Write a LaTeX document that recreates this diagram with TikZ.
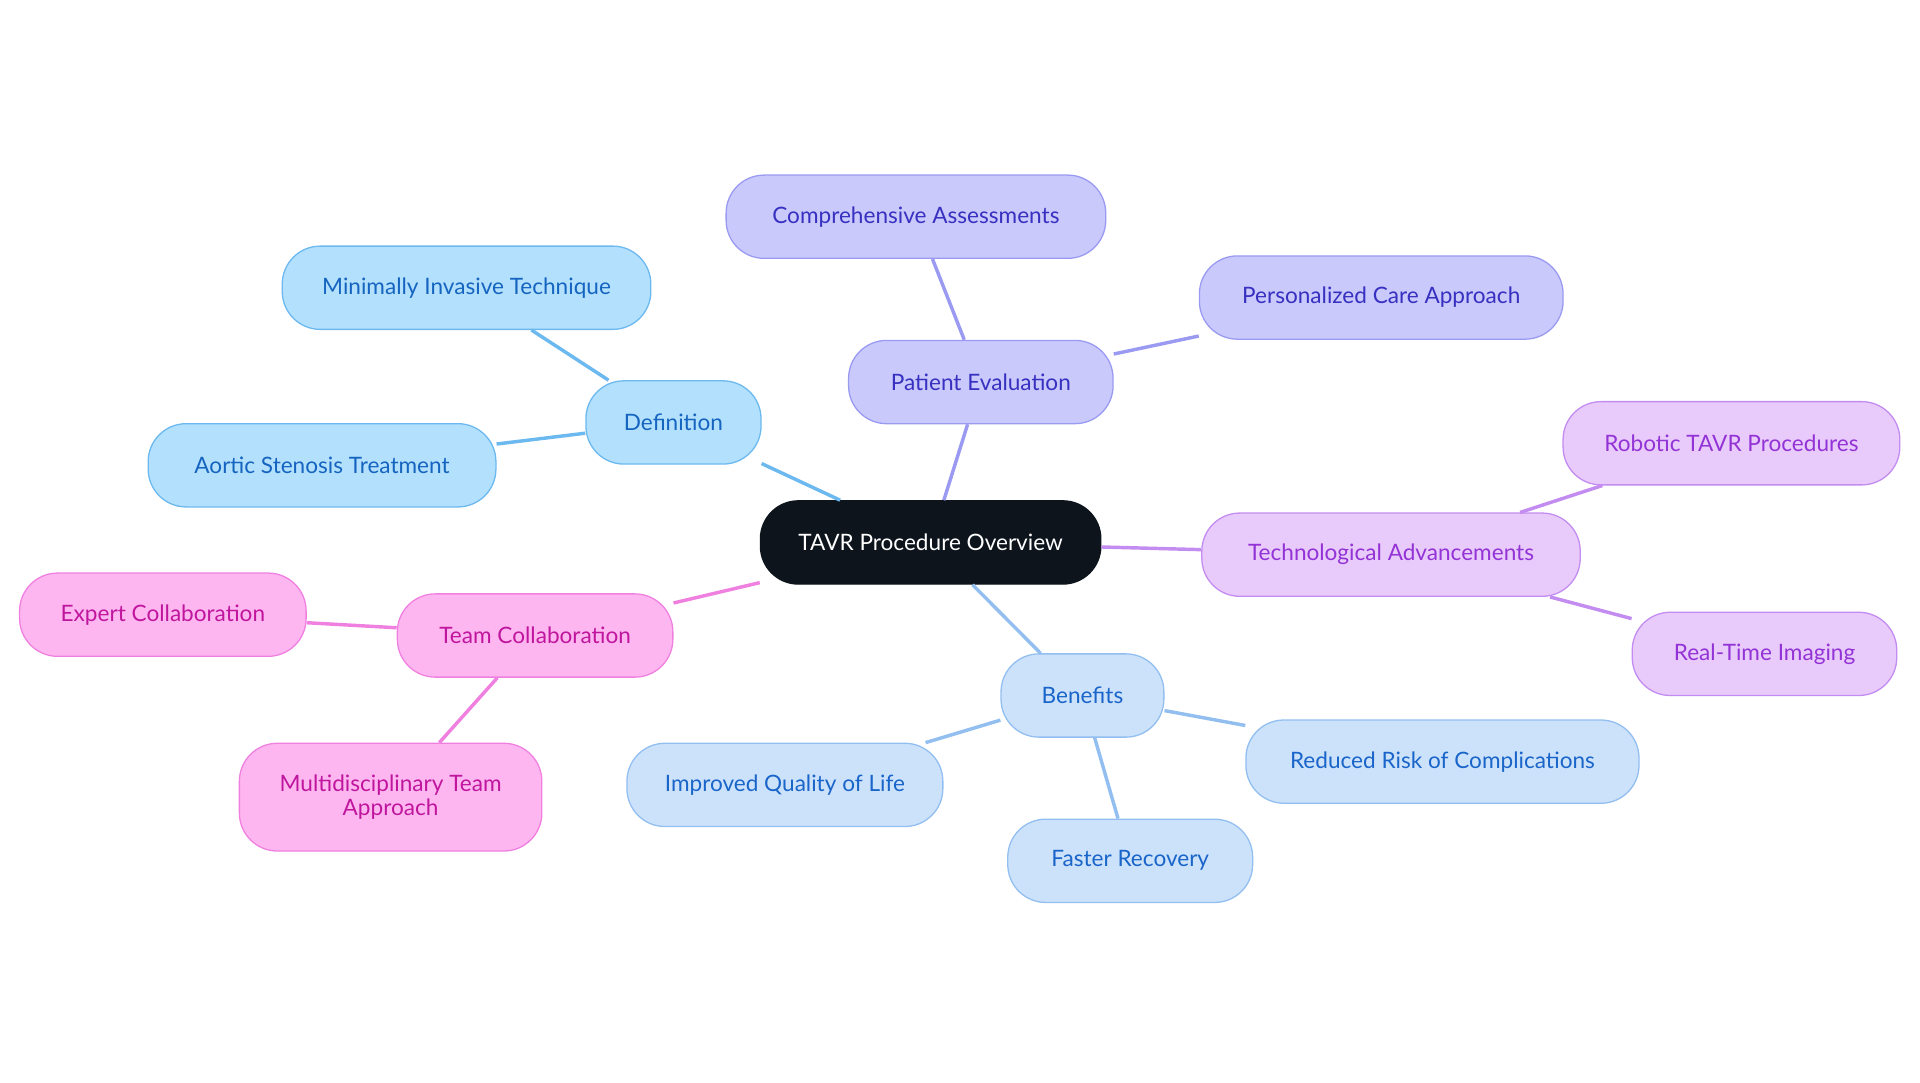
\documentclass[tikz,border=0pt]{standalone}
\usepackage{fontspec}
\setmainfont{Lato}
\begin{document}
\begin{tikzpicture}[x=0.02cm,y=-0.02cm,
 box/.style={rounded corners=0.62cm,minimum height=1.36cm,inner sep=0pt,align=center,font=\fontsize{10.5pt}{11pt}\selectfont,line width=0.6pt},
 cb/.style={box,fill=black!85!blue!70!black,fill={rgb,255:red,13;green,20;blue,28},draw={rgb,255:red,13;green,20;blue,28},text=white},
 db/.style={box,fill={rgb,255:red,179;green,224;blue,253},draw={rgb,255:red,108;green,185;blue,240},text={rgb,255:red,21;green,101;blue,192}},
 pb/.style={box,fill={rgb,255:red,201;green,201;blue,252},draw={rgb,255:red,154;green,154;blue,242},text={rgb,255:red,55;green,48;blue,192}},
 vb/.style={box,fill={rgb,255:red,232;green,203;blue,251},draw={rgb,255:red,195;green,140;blue,240},text={rgb,255:red,147;green,51;blue,214}},
 kb/.style={box,fill={rgb,255:red,253;green,182;blue,240},draw={rgb,255:red,240;green,128;blue,224},text={rgb,255:red,192;green,22;blue,158}},
 bb/.style={box,fill={rgb,255:red,204;green,226;blue,251},draw={rgb,255:red,146;green,190;blue,240},text={rgb,255:red,26;green,101;blue,201}},
 dl/.style={draw={rgb,255:red,108;green,185;blue,240},line width=1.6pt},
 pl/.style={draw={rgb,255:red,154;green,154;blue,242},line width=1.6pt},
 vl/.style={draw={rgb,255:red,195;green,140;blue,240},line width=1.6pt},
 kl/.style={draw={rgb,255:red,240;green,128;blue,224},line width=1.6pt},
 bl/.style={draw={rgb,255:red,146;green,190;blue,240},line width=1.6pt}]
\useasboundingbox (0,0) rectangle (1568,884);
\node[cb,minimum width=278*0.02cm] (c) at (760,443) {TAVR Procedure Overview};
\node[db,minimum width=143*0.02cm] (d) at (550,345) {Definition};
\node[db,minimum width=301*0.02cm] (d1) at (381,235) {Minimally Invasive Technique};
\node[db,minimum width=284*0.02cm] (d2) at (263,380) {Aortic Stenosis Treatment};
\node[pb,minimum width=216*0.02cm] (p) at (801,312) {Patient Evaluation};
\node[pb,minimum width=310*0.02cm] (p1) at (748,177) {Comprehensive Assessments};
\node[pb,minimum width=297*0.02cm] (p2) at (1128,243) {Personalized Care Approach};
\node[vb,minimum width=309*0.02cm] (t) at (1136,453) {Technological Advancements};
\node[vb,minimum width=275*0.02cm] (t1) at (1414,362) {Robotic TAVR Procedures};
\node[vb,minimum width=216*0.02cm] (t2) at (1441,534) {Real-Time Imaging};
\node[bb,minimum width=133*0.02cm] (b) at (884,568) {Benefits};
\node[bb,minimum width=321*0.02cm] (b1) at (1178,622) {Reduced Risk of Complications};
\node[bb,minimum width=200*0.02cm] (b2) at (923,703) {Faster Recovery};
\node[bb,minimum width=258*0.02cm] (b3) at (641,641) {Improved Quality of Life};
\node[kb,minimum width=225*0.02cm] (k) at (437,519) {Team Collaboration};
\node[kb,minimum width=234*0.02cm] (k1) at (133,502) {Expert Collaboration};
\node[kb,minimum width=247*0.02cm,minimum height=1.76cm] (k2) at (319,651) {Multidisciplinary Team\\Approach};
\begin{scope}[on background layer/.style={}]
\end{scope}
\draw[dl] (c) -- (d); \draw[dl] (d) -- (d1); \draw[dl] (d) -- (d2);
\draw[pl] (c) -- (p); \draw[pl] (p) -- (p1); \draw[pl] (p) -- (p2);
\draw[vl] (c) -- (t); \draw[vl] (t) -- (t1); \draw[vl] (t) -- (t2);
\draw[bl] (c) -- (b); \draw[bl] (b) -- (b1); \draw[bl] (b) -- (b2); \draw[bl] (b) -- (b3);
\draw[kl] (c) -- (k); \draw[kl] (k) -- (k1); \draw[kl] (k) -- (k2);
\end{tikzpicture}
\end{document}
